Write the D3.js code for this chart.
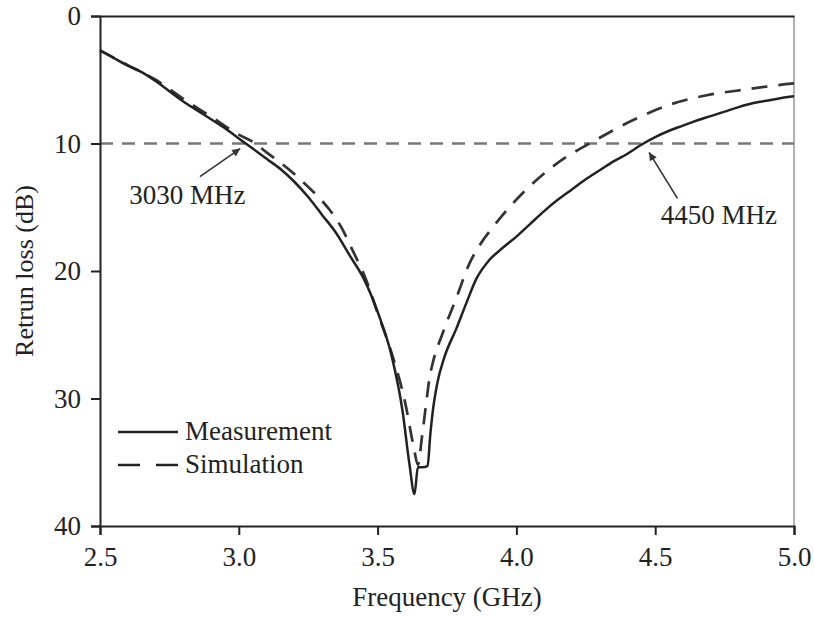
<!DOCTYPE html>
<html>
<head>
<meta charset="utf-8">
<script src="https://cdn.jsdelivr.net/npm/d3@7"></script>
<style>
  html, body { margin: 0; padding: 0; background: #fff; }
  svg text { font-family: "Liberation Serif", "Times New Roman", serif; fill: #222; }
</style>
</head>
<body>
<svg id="chart" width="814" height="617"></svg>
<script>
// Return loss vs frequency: measured and simulated
const measFreq = [2.50, 2.55, 2.60, 2.65, 2.70, 2.75, 2.80, 2.85, 2.90, 2.95, 3.00, 3.05, 3.10, 3.15, 3.20,
  3.25, 3.30, 3.35, 3.40, 3.45, 3.50, 3.55, 3.59, 3.615, 3.633, 3.645, 3.66, 3.68, 3.69, 3.70, 3.715,
  3.74, 3.784, 3.82, 3.856, 3.90, 3.95, 4.00, 4.05, 4.10, 4.15, 4.20, 4.25, 4.30, 4.35, 4.40, 4.45,
  4.50, 4.55, 4.60, 4.65, 4.70, 4.75, 4.80, 4.85, 4.90, 4.95, 5.00];
const measLoss = [2.7, 3.3, 3.9, 4.4, 5.1, 5.9, 6.7, 7.4, 8.1, 8.8, 9.6, 10.4, 11.2, 12.0, 13.0,
  14.2, 15.6, 17.0, 18.8, 20.6, 23.2, 26.6, 31.0, 35.2, 37.5, 35.4, 35.4, 35.3, 32.8, 30.8, 28.8,
  26.8, 24.5, 22.5, 20.6, 19.2, 18.2, 17.3, 16.3, 15.3, 14.4, 13.6, 12.8, 12.1, 11.4, 10.8, 10.1,
  9.5, 9.0, 8.6, 8.2, 7.85, 7.5, 7.15, 6.85, 6.65, 6.45, 6.3];

const simFreq = [2.50, 2.60, 2.70, 2.80, 2.90, 3.00, 3.06, 3.10, 3.15, 3.20, 3.25, 3.30, 3.327, 3.37,
  3.406, 3.464, 3.50, 3.55, 3.60, 3.63, 3.645, 3.66, 3.676, 3.687, 3.70, 3.734, 3.784, 3.831, 3.87,
  3.914, 4.022, 4.144, 4.288, 4.417, 4.56, 4.69, 4.83, 4.97, 5.00];
const simLoss = [2.7, 3.85, 5.0, 6.5, 7.9, 9.3, 10.0, 10.7, 11.5, 12.4, 13.4, 14.5, 15.2, 16.6,
  18.2, 21.0, 23.3, 26.4, 30.4, 33.8, 35.2, 33.0, 30.2, 28.4, 27.1, 24.9, 22.1, 19.4, 17.9,
  16.6, 13.9, 11.6, 9.7, 8.2, 6.9, 6.2, 5.75, 5.35, 5.28];

const threshold = 10;
const xTicks = [2.5, 3.0, 3.5, 4.0, 4.5, 5.0];
const yTicks = [0, 10, 20, 30, 40];
const seriesNames = ["Measurement", "Simulation"];
const markerLabels = ["3030 MHz", "4450 MHz"];

const svg = d3.select("#chart");
const plotLeft = 100, plotRight = 794, plotTop = 16, plotBottom = 526;

const x = d3.scaleLinear().domain([2.5, 5.0]).range([plotLeft, plotRight]);
const y = d3.scaleLinear().domain([0, 40]).range([plotTop, plotBottom]);

const ink = "#222";

// right frame edge (light)
svg.append("line")
  .attr("x1", plotRight).attr("x2", plotRight).attr("y1", plotTop).attr("y2", plotBottom)
  .attr("stroke", "#999").attr("stroke-width", 1.5);

// -10 dB reference line
svg.append("line")
  .attr("x1", x(2.5)).attr("x2", x(5.0)).attr("y1", y(threshold)).attr("y2", y(threshold))
  .attr("stroke", "#777").attr("stroke-width", 2.6).attr("stroke-dasharray", "13,9");

const line = d3.line().x(d => x(d[0])).y(d => y(d[1])).curve(d3.curveMonotoneX);

svg.append("path")
  .datum(simFreq.map((f, i) => [f, simLoss[i]]))
  .attr("d", line).attr("fill", "none")
  .attr("stroke", "#333").attr("stroke-width", 2.7).attr("stroke-dasharray", "16,11");

svg.append("path")
  .datum(measFreq.map((f, i) => [f, measLoss[i]]))
  .attr("d", line).attr("fill", "none")
  .attr("stroke", ink).attr("stroke-width", 2.5).attr("stroke-linejoin", "round");

// axes
const fontSize = 27;
const yAxis = d3.axisLeft(y).tickValues(yTicks).tickSize(9).tickPadding(10).tickFormat(d3.format("d"));
const xAxis = d3.axisBottom(x).tickValues(xTicks).tickSize(9).tickPadding(12).tickFormat(d3.format(".1f"));
const xTop = d3.axisTop(x).tickValues([]).tickSizeOuter(0);

function styleAxis(g) {
  g.select(".domain").attr("stroke", ink).attr("stroke-width", 2);
  g.selectAll(".tick line").attr("stroke", ink).attr("stroke-width", 2);
  g.selectAll(".tick text").attr("font-size", fontSize)
    .attr("font-family", "Liberation Serif, Times New Roman, serif").attr("fill", ink);
}

svg.append("g").attr("transform", `translate(${plotLeft},0)`).call(yAxis).call(styleAxis);
svg.append("g").attr("transform", `translate(0,${plotBottom})`).call(xAxis).call(styleAxis);
svg.append("g").attr("transform", `translate(0,${plotTop})`).call(xTop).call(styleAxis);

// axis titles
svg.append("text")
  .attr("x", (plotLeft + plotRight) / 2).attr("y", 606)
  .attr("text-anchor", "middle").attr("font-size", fontSize)
  .text("Frequency (GHz)");

svg.append("text")
  .attr("transform", `translate(33,${(plotTop + plotBottom) / 2}) rotate(-90)`)
  .attr("text-anchor", "middle").attr("font-size", fontSize - 1)
  .text("Retrun loss (dB)");

// arrow annotations at the -10 dB crossings
svg.append("defs").append("marker")
  .attr("id", "head").attr("viewBox", "0 0 10 10")
  .attr("refX", 10).attr("refY", 5)
  .attr("markerWidth", 11).attr("markerHeight", 8)
  .attr("markerUnits", "userSpaceOnUse")
  .attr("orient", "auto")
  .append("path").attr("d", "M0,0 L10,5 L0,10 Z").attr("fill", "#333");

const notes = [
  { label: markerLabels[0], tail: [2.86, 12.6], tip: [3.005, 10.4], text: [2.605, 14.75] },
  { label: markerLabels[1], tail: [4.58, 14.3], tip: [4.478, 10.7], text: [4.52, 16.3] }
];
notes.forEach(n => {
  svg.append("line")
    .attr("x1", x(n.tail[0])).attr("y1", y(n.tail[1]))
    .attr("x2", x(n.tip[0])).attr("y2", y(n.tip[1]))
    .attr("stroke", "#333").attr("stroke-width", 1.6)
    .attr("marker-end", "url(#head)");
  svg.append("text")
    .attr("x", x(n.text[0])).attr("y", y(n.text[1]))
    .attr("font-size", fontSize)
    .text(n.label);
});

// legend
const legend = svg.append("g");
[[seriesNames[0], null, 432], [seriesNames[1], "22,16", 465]].forEach(([name, dash, ly]) => {
  legend.append("line")
    .attr("x1", 118).attr("x2", 178).attr("y1", ly).attr("y2", ly)
    .attr("stroke", ink).attr("stroke-width", 2.6)
    .attr("stroke-dasharray", dash);
  legend.append("text")
    .attr("x", 185).attr("y", ly + 8)
    .attr("font-size", fontSize)
    .text(name);
});
</script>
</body>
</html>
